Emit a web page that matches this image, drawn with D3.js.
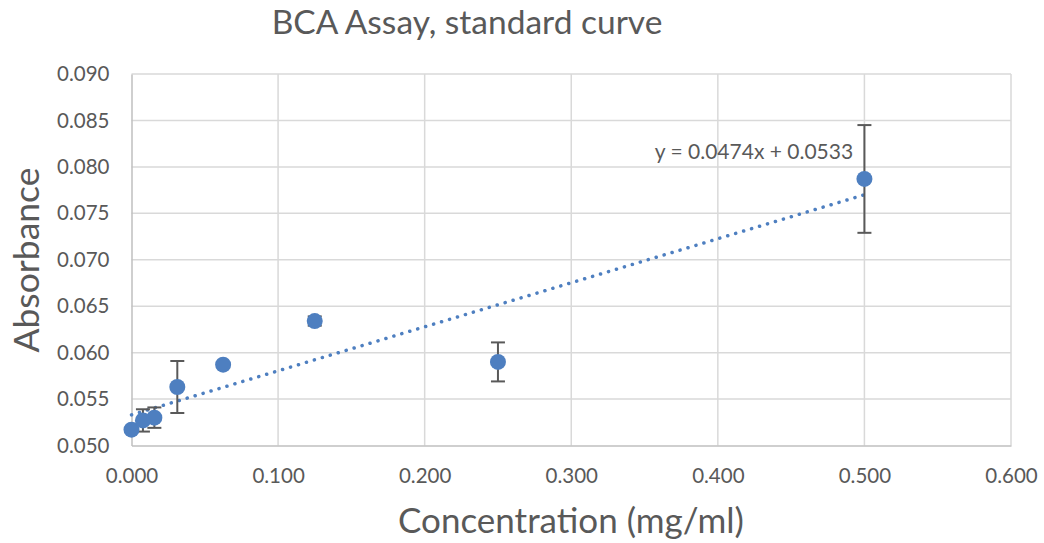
<!DOCTYPE html>
<html>
<head>
<meta charset="utf-8">
<script src="https://cdn.jsdelivr.net/npm/d3@7"></script>
<style>
  body { margin: 0; background: #fff; }
  text { font-family: Lato, "Open Sans", sans-serif; fill: #595959; }
</style>
</head>
<body>
<svg id="chart"></svg>
<script>
// data
let concentrations = [0, 0.0078, 0.0156, 0.03125, 0.0625, 0.125, 0.25, 0.5]
let absorbance = [0.0517, 0.0527, 0.0530, 0.0563, 0.0587, 0.0634, 0.0590, 0.0787]
let errors = [0.0002, 0.0012, 0.0011, 0.0028, 0.0001, 0.0005, 0.0021, 0.0058]
let xTicks = [0, 0.1, 0.2, 0.3, 0.4, 0.5, 0.6]
let yTicks = [0.050, 0.055, 0.060, 0.065, 0.070, 0.075, 0.080, 0.085, 0.090]
let slope = 0.0474
let intercept = 0.0533

let width = 1044
let height = 543
let plotLeft = 131.5, plotRight = 1011, plotTop = 74, plotBottom = 445.5
let blue = '#4e7fc0'

let svg = d3.select('#chart').attr('width', width).attr('height', height)

let xScale = d3.scaleLinear().domain([0, 0.6]).range([plotLeft, plotRight])
let yScale = d3.scaleLinear().domain([0.05, 0.09]).range([plotBottom, plotTop])

// gridlines
svg.append('g')
   .selectAll('line')
   .data(xTicks.slice(1))
   .enter().append('line')
   .attr('x1', d => xScale(d)).attr('x2', d => xScale(d))
   .attr('y1', plotTop).attr('y2', plotBottom)
   .attr('stroke', '#d9d9d9').attr('stroke-width', 1.5)

svg.append('g')
   .selectAll('line')
   .data(yTicks.slice(1))
   .enter().append('line')
   .attr('x1', plotLeft).attr('x2', plotRight)
   .attr('y1', d => yScale(d)).attr('y2', d => yScale(d))
   .attr('stroke', '#d9d9d9').attr('stroke-width', 1.5)

// axes
let xAxis = d3.axisBottom(xScale).tickValues(xTicks).tickFormat(d3.format('.3f')).tickSize(0).tickPadding(23)
let yAxis = d3.axisLeft(yScale).tickValues(yTicks).tickFormat(d3.format('.3f')).tickSize(0).tickPadding(22)

let gx = svg.append('g').attr('transform', 'translate(0,' + plotBottom + ')').call(xAxis)
let gy = svg.append('g').attr('transform', 'translate(' + plotLeft + ',0)').call(yAxis)
gx.select('.domain').attr('stroke', '#bfbfbf').attr('stroke-width', 1.5)
gy.select('.domain').attr('stroke', '#bfbfbf').attr('stroke-width', 1.5)
svg.selectAll('.tick text').style('font-size', '20.5px').attr('fill', '#595959')

// trendline
svg.append('line')
   .attr('x1', xScale(0)).attr('y1', yScale(intercept))
   .attr('x2', xScale(0.5)).attr('y2', yScale(intercept + slope * 0.5))
   .attr('stroke', blue).attr('stroke-width', 3.5)
   .attr('stroke-linecap', 'round')
   .attr('stroke-dasharray', '0.1 8.2')

// error bars
let pts = concentrations.map((c, i) => ({x: c, y: absorbance[i], e: errors[i]}))
let eb = svg.append('g').attr('stroke', '#595959').attr('stroke-width', 2)
pts.forEach(d => {
    let cx = xScale(d.x)
    eb.append('line').attr('x1', cx).attr('x2', cx).attr('y1', yScale(d.y - d.e)).attr('y2', yScale(d.y + d.e))
    eb.append('line').attr('x1', cx - 7).attr('x2', cx + 7).attr('y1', yScale(d.y - d.e)).attr('y2', yScale(d.y - d.e))
    eb.append('line').attr('x1', cx - 7).attr('x2', cx + 7).attr('y1', yScale(d.y + d.e)).attr('y2', yScale(d.y + d.e))
})

// points
svg.selectAll('circle')
   .data(pts)
   .enter().append('circle')
   .attr('cx', d => xScale(d.x))
   .attr('cy', d => yScale(d.y))
   .attr('r', 8)
   .attr('fill', blue)

// equation
svg.append('text')
   .attr('x', 754).attr('y', 159)
   .attr('text-anchor', 'middle')
   .style('font-size', '21px')
   .text('y = 0.0474x + 0.0533')

// titles
svg.append('text')
   .attr('x', 467).attr('y', 34)
   .attr('text-anchor', 'middle')
   .style('font-size', '33.5px')
   .text('BCA Assay, standard curve')

svg.append('text')
   .attr('x', 571).attr('y', 533)
   .attr('text-anchor', 'middle')
   .style('font-size', '35px')
   .text('Concentration (mg/ml)')

svg.append('text')
   .attr('transform', 'translate(39,' + 260 + ') rotate(-90)')
   .attr('text-anchor', 'middle')
   .style('font-size', '35.5px')
   .text('Absorbance')
</script>
</body>
</html>
